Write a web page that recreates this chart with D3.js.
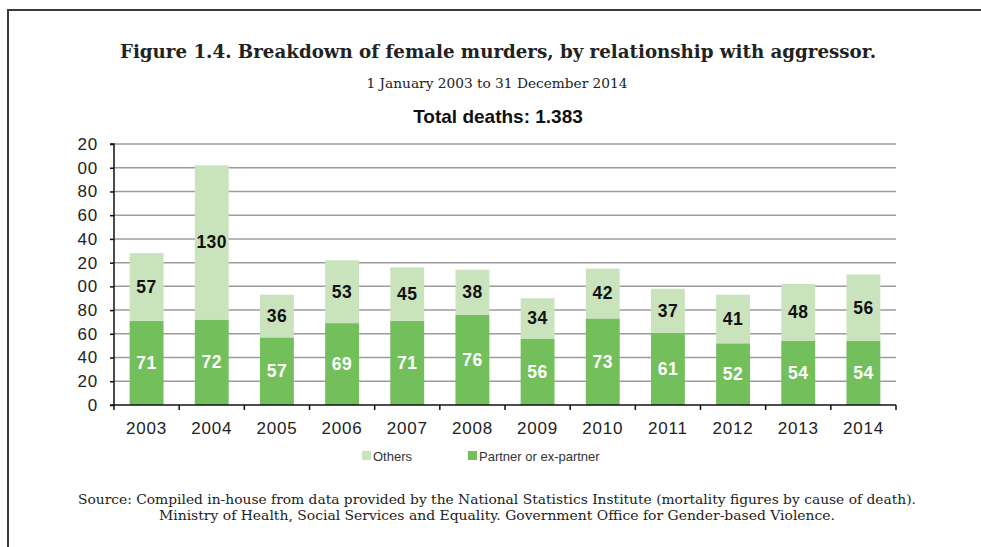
<!DOCTYPE html>
<html>
<head>
<meta charset="utf-8">
<script src="https://cdn.jsdelivr.net/npm/d3@7"></script>
<style>
  body { margin: 0; background: #fff; }
  svg { display: block; }
</style>
</head>
<body>
<svg id="chart" width="981" height="547"></svg>
<script>
let years = ['2003', '2004', '2005', '2006', '2007', '2008', '2009', '2010', '2011', '2012', '2013', '2014'];
let partner = [71, 72, 57, 69, 71, 76, 56, 73, 61, 52, 54, 54];
let others = [57, 130, 36, 53, 45, 38, 34, 42, 37, 41, 48, 56];
let yTicks = [0, 20, 40, 60, 80, 100, 120, 140, 160, 180, 200, 220];
// labels as they show in the picture (left digit cut off)
let yTickLabels = ['0', '20', '40', '60', '80', '00', '20', '40', '60', '80', '00', '20'];
let seriesNames = ['Others', 'Partner or ex-partner'];
let colors = ['#c9e4bc', '#72bf5c'];

let svg = d3.select('#chart');

// frame
svg.append('path')
    .attr('d', 'M8,547 L8,10 L981,10')
    .attr('fill', 'none')
    .attr('stroke', '#3a3a3a')
    .attr('stroke-width', 2);

let serif = '"DejaVu Serif", "Liberation Serif", serif';
let sans = '"Liberation Sans", Arial, sans-serif';

svg.append('text')
    .attr('x', 498).attr('y', 58)
    .attr('text-anchor', 'middle')
    .attr('font-family', serif).attr('font-weight', 'bold').attr('font-size', 19)
    .attr('textLength', 756).attr('lengthAdjust', 'spacingAndGlyphs')
    .attr('fill', '#222')
    .text('Figure 1.4. Breakdown of female murders, by relationship with aggressor.');

svg.append('text')
    .attr('x', 497).attr('y', 88)
    .attr('text-anchor', 'middle')
    .attr('font-family', serif).attr('font-size', 13)
    .attr('textLength', 261).attr('lengthAdjust', 'spacingAndGlyphs')
    .attr('fill', '#222')
    .text('1 January 2003 to 31 December 2014');

svg.append('text')
    .attr('x', 498).attr('y', 123)
    .attr('text-anchor', 'middle')
    .attr('font-family', sans).attr('font-weight', 'bold').attr('font-size', 19)
    .attr('fill', '#111')
    .text('Total deaths: 1.383');

let x = d3.scaleBand()
    .domain(years)
    .range([114, 896])
    .paddingInner(0.48)
    .paddingOuter(0.24);

let y = d3.scaleLinear()
    .domain([0, 220])
    .range([405, 144]);

// gridlines
svg.append('g')
    .selectAll('line')
    .data(yTicks.slice(1))
    .enter()
    .append('line')
    .attr('x1', 114).attr('x2', 896)
    .attr('y1', d => y(d)).attr('y2', d => y(d))
    .attr('stroke', '#9c9c9c')
    .attr('stroke-width', 1.5);

// stacked bars
let rows = years.map((yr, i) => ({ year: yr, partner: partner[i], others: others[i] }));
let stack = d3.stack().keys(['partner', 'others'])(rows);

let layers = svg.append('g')
    .selectAll('g')
    .data(stack)
    .enter()
    .append('g')
    .attr('fill', d => d.key === 'partner' ? colors[1] : colors[0]);

layers.selectAll('rect')
    .data(d => d)
    .enter()
    .append('rect')
    .attr('x', d => x(d.data.year))
    .attr('width', x.bandwidth())
    .attr('y', d => y(d[1]))
    .attr('height', d => y(d[0]) - y(d[1]));

layers.selectAll('text')
    .data(d => d.map(v => ({ v: v, key: d.key })))
    .enter()
    .append('text')
    .attr('x', d => x(d.v.data.year) + x.bandwidth() / 2)
    .attr('y', d => (y(d.v[0]) + y(d.v[1])) / 2 + 6)
    .attr('text-anchor', 'middle')
    .attr('font-family', sans).attr('font-weight', 'bold').attr('font-size', 17.5)
    .attr('letter-spacing', 0.5)
    .attr('fill', d => d.key === 'partner' ? '#fff' : '#111')
    .text(d => d.v.data[d.key]);

// y axis
let yAxis = d3.axisLeft(y)
    .tickValues(yTicks)
    .tickSize(4)
    .tickPadding(12)
    .tickFormat((d, i) => yTickLabels[i]);

let gy = svg.append('g')
    .attr('transform', 'translate(114,0)')
    .call(yAxis);
gy.select('.domain').attr('d', 'M-4,' + y(220) + 'H0V' + y(0) + 'H-4');
gy.selectAll('text').attr('font-family', sans).attr('font-size', 17)
    .attr('letter-spacing', 0.8).attr('fill', '#222');
gy.selectAll('line, path').attr('stroke', '#111').attr('stroke-width', 1.5);

// x axis
let gx = svg.append('g');
gx.append('line')
    .attr('x1', 114).attr('x2', 896)
    .attr('y1', 405).attr('y2', 405)
    .attr('stroke', '#111').attr('stroke-width', 1.5);
gx.selectAll('.tk')
    .data(d3.range(years.length + 1))
    .enter()
    .append('line')
    .attr('x1', i => 114 + i * x.step()).attr('x2', i => 114 + i * x.step())
    .attr('y1', 405).attr('y2', 410)
    .attr('stroke', '#111').attr('stroke-width', 1.5);
gx.selectAll('text')
    .data(years)
    .enter()
    .append('text')
    .attr('x', d => x(d) + x.bandwidth() / 2)
    .attr('y', 434)
    .attr('text-anchor', 'middle')
    .attr('font-family', sans).attr('font-size', 17)
    .attr('letter-spacing', 0.8)
    .attr('fill', '#222')
    .text(d => d);

// legend
let legendX = [362, 468];
let legend = svg.append('g')
    .selectAll('g')
    .data(seriesNames)
    .enter()
    .append('g')
    .attr('transform', (d, i) => 'translate(' + legendX[i] + ',451)');
legend.append('rect')
    .attr('width', 9).attr('height', 9)
    .attr('fill', (d, i) => colors[i]);
legend.append('text')
    .attr('x', 11).attr('y', 10)
    .attr('font-family', sans).attr('font-size', 13)
    .attr('fill', '#333')
    .text(d => d);

// source
let sourceLines = [
    'Source: Compiled in-house from data provided by the National Statistics Institute (mortality figures by cause of death).',
    'Ministry of Health, Social Services and Equality. Government Office for Gender-based Violence.'
];
let sourceWidths = [838, 676];
svg.append('g')
    .selectAll('text')
    .data(sourceLines)
    .enter()
    .append('text')
    .attr('x', 497)
    .attr('y', (d, i) => 504 + i * 16)
    .attr('text-anchor', 'middle')
    .attr('font-family', serif).attr('font-size', 13)
    .attr('textLength', (d, i) => sourceWidths[i]).attr('lengthAdjust', 'spacingAndGlyphs')
    .attr('fill', '#222')
    .text(d => d);
</script>
</body>
</html>
